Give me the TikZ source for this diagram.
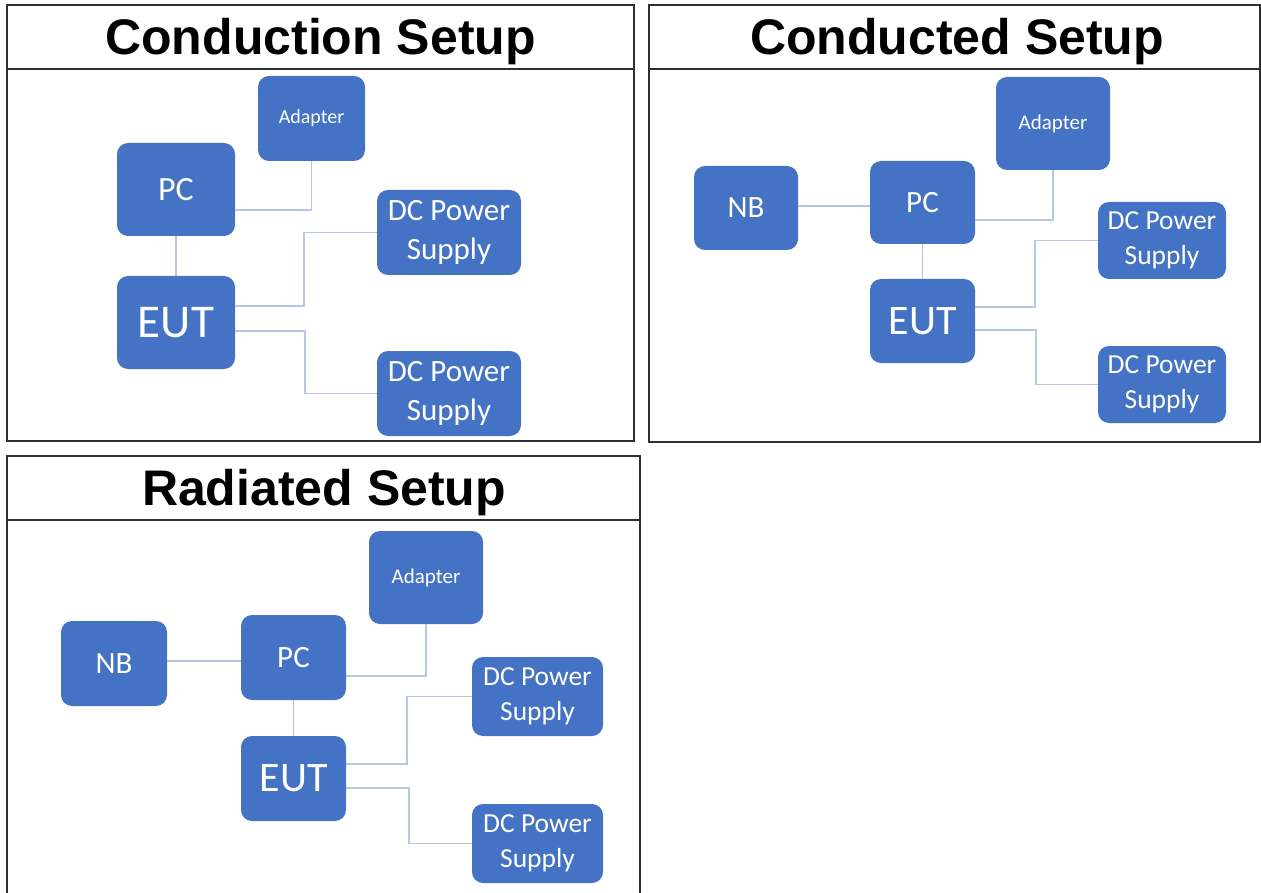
\documentclass[tikz,border=0pt]{standalone}
\usepackage{fontspec}
\setmainfont{Liberation Sans}
\newfontfamily\boxfont{Carlito}
\definecolor{boxblue}{HTML}{4472C4}
\definecolor{linkblue}{HTML}{B4C7E7}
\definecolor{frame}{HTML}{303030}
\begin{document}
\begin{tikzpicture}[x=1pt,y=-1pt,
  blk/.style={fill=boxblue, rounded corners=11pt, text=white, inner sep=0pt, align=center},
  conn/.style={draw=linkblue, line width=1.8pt},
  panel/.style={draw=frame, line width=1.5pt},
  ttl/.style={anchor=base, font=\bfseries\fontsize{50}{60}\selectfont},
  fA/.style={font=\boxfont\fontsize{20}{24}\selectfont},
  fPC/.style={font=\boxfont\fontsize{34}{40}\selectfont},
  fEUT/.style={font=\boxfont\fontsize{47}{55}\selectfont},
  fDC/.style={font=\boxfont\fontsize{31}{39}\selectfont},
  fA2/.style={font=\boxfont\fontsize{21}{25}\selectfont},
  fPC2/.style={font=\boxfont\fontsize{31}{37}\selectfont},
  fEUT2/.style={font=\boxfont\fontsize{42}{50}\selectfont},
  fDC2/.style={font=\boxfont\fontsize{27.5}{35}\selectfont}
]
\useasboundingbox (0,0) rectangle (1261,893);

% ---------- Panel 1: Conduction Setup ----------
\draw[panel] (7,5) rectangle (634,441);
\draw[panel] (7,69) -- (634,69);
\node[ttl] (t1) at (320.5,55) {Conduction Setup};

\node[blk, fA, minimum width=107pt, minimum height=85pt] (ad1) at (311.5,118.5) {Adapter};
\node[blk, fPC, minimum width=118pt, minimum height=93pt] (pc1) at (176,189.5) {PC};
\node[blk, fEUT, minimum width=118pt, minimum height=93pt] (eut1) at (176,322.5) {EUT};
\node[blk, fDC, minimum width=144pt, minimum height=85pt] (dca1) at (449,232.5) {DC Power\\Supply};
\node[blk, fDC, minimum width=144pt, minimum height=85pt] (dcb1) at (449,393.5) {DC Power\\Supply};

\draw[conn] (pc1.south) -- (eut1.north);
\draw[conn] ([yshift=-20.5pt]pc1.east) -| (ad1.south);
\draw[conn] ([yshift=16.5pt]eut1.east) -- ++(69,0) |- (dca1.west);
\draw[conn] ([yshift=-8.5pt]eut1.east) -- ++(70,0) |- (dcb1.west);

% ---------- Panel 2: Conducted Setup ----------
\draw[panel] (649,5) rectangle (1260,442);
\draw[panel] (649,69) -- (1260,69);
\node[ttl] (t2) at (957,55) {Conducted Setup};

\node[blk, fA2, minimum width=114pt, minimum height=93pt] (ad2) at (1053,123.5) {Adapter};
\node[blk, fPC2, minimum width=104pt, minimum height=84pt] (nb2) at (746,208) {NB};
\node[blk, fPC2, minimum width=105pt, minimum height=83pt] (pc2) at (922.5,202.5) {PC};
\node[blk, fEUT2, minimum width=105pt, minimum height=84pt] (eut2) at (922.5,321) {EUT};
\node[blk, fDC2, minimum width=128pt, minimum height=77pt] (dca2) at (1162,240.5) {DC Power\\Supply};
\node[blk, fDC2, minimum width=128pt, minimum height=77pt] (dcb2) at (1162,384.5) {DC Power\\Supply};

\draw[conn] ([yshift=2pt]nb2.east) -- ([yshift=-3.5pt]pc2.west);
\draw[conn] (pc2.south) -- (eut2.north);
\draw[conn] ([yshift=-17.5pt]pc2.east) -| (ad2.south);
\draw[conn] ([yshift=14pt]eut2.east) -- ++(60,0) |- (dca2.west);
\draw[conn] ([yshift=-9pt]eut2.east) -- ++(61,0) |- (dcb2.west);

% ---------- Panel 3: Radiated Setup ----------
\draw[panel] (7,895) -- (7,456) -- (640,456) -- (640,895);
\draw[panel] (7,520) -- (640,520);
\node[ttl] (t3) at (324,505) {Radiated Setup};

\node[blk, fA2, minimum width=114pt, minimum height=93pt] (ad3) at (426,577.5) {Adapter};
\node[blk, fPC2, minimum width=106pt, minimum height=85pt] (nb3) at (114,663.5) {NB};
\node[blk, fPC2, minimum width=105pt, minimum height=85pt] (pc3) at (293.5,657.5) {PC};
\node[blk, fEUT2, minimum width=105pt, minimum height=85pt] (eut3) at (293.5,778.5) {EUT};
\node[blk, fDC2, minimum width=131pt, minimum height=79pt] (dca3) at (537.5,696.5) {DC Power\\Supply};
\node[blk, fDC2, minimum width=131pt, minimum height=79pt] (dcb3) at (537.5,843.5) {DC Power\\Supply};

\draw[conn] ([yshift=2.5pt]nb3.east) -- ([yshift=-3.5pt]pc3.west);
\draw[conn] (pc3.south) -- (eut3.north);
\draw[conn] ([yshift=-18.5pt]pc3.east) -| (ad3.south);
\draw[conn] ([yshift=14.5pt]eut3.east) -- ++(61,0) |- (dca3.west);
\draw[conn] ([yshift=-9.5pt]eut3.east) -- ++(63,0) |- (dcb3.west);
\end{tikzpicture}
\end{document}
